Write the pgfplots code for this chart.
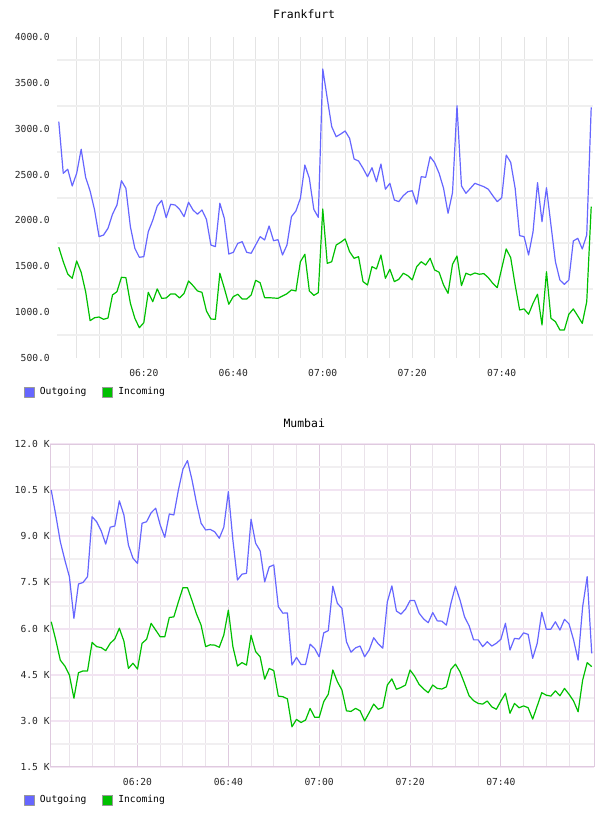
\documentclass[border=0pt]{standalone}
\usepackage{pgfplots}
\pgfplotsset{compat=1.18}
\usepackage{pgfplotstable}
\usepackage{fontspec}
\setmainfont{DejaVu Sans Mono}

\definecolor{outgoing}{HTML}{6666FF}
\definecolor{incoming}{HTML}{00C000}
\definecolor{frahgrid}{HTML}{EFEFEF}
\definecolor{fravgrid}{HTML}{E4E4E4}
\definecolor{mumhmajor}{HTML}{F2E4F2}
\definecolor{mumhminor}{HTML}{F1EFF1}
\definecolor{mumvmajor}{HTML}{DFCADF}
\definecolor{mumvminor}{HTML}{EAE3EA}
\definecolor{legendedge}{HTML}{999999}

% minutes after 06:00, outgoing and incoming traffic
\pgfplotstableread{
t out in
1 3077 1707
2 2514 1550
3 2558 1416
4 2376 1369
5 2514 1558
6 2776 1435
7 2470 1223
8 2321 907
9 2114 939
10 1823 947
11 1841 922
12 1914 936
13 2067 1187
14 2168 1223
15 2433 1380
16 2350 1376
17 1932 1097
18 1696 933
19 1598 830
20 1605 885
21 1877 1216
22 2001 1114
23 2157 1253
24 2219 1151
25 2030 1154
26 2176 1198
27 2168 1198
28 2121 1154
29 2041 1205
30 2198 1340
31 2114 1289
32 2067 1231
33 2114 1216
34 2012 1013
35 1732 925
36 1714 922
37 2187 1424
38 2023 1260
39 1634 1086
40 1652 1169
41 1750 1195
42 1768 1143
43 1652 1143
44 1642 1187
45 1732 1347
46 1823 1321
47 1787 1158
48 1939 1158
49 1779 1154
50 1790 1151
51 1623 1176
52 1732 1201
53 2041 1242
54 2103 1231
55 2241 1550
56 2604 1631
57 2459 1231
58 2121 1183
59 2034 1212
60 3651 2125
61 3332 1532
62 3022 1550
63 2913 1732
64 2942 1762
65 2975 1798
66 2895 1659
67 2670 1587
68 2648 1605
69 2568 1333
70 2477 1296
71 2575 1496
72 2422 1471
73 2615 1623
74 2340 1369
75 2405 1467
76 2223 1333
77 2205 1358
78 2270 1424
79 2313 1398
80 2324 1351
81 2179 1496
82 2477 1550
83 2470 1514
84 2695 1587
85 2630 1460
86 2514 1435
87 2350 1296
88 2078 1205
89 2302 1522
90 3251 1612
91 2376 1289
92 2296 1424
93 2350 1405
94 2405 1427
95 2386 1413
96 2368 1420
97 2340 1376
98 2270 1314
99 2205 1267
100 2248 1478
101 2713 1689
102 2634 1594
103 2350 1296
104 1834 1024
105 1823 1035
106 1623 977
107 1877 1097
108 2412 1195
109 1986 860
110 2357 1441
111 1950 933
112 1550 896
113 1350 806
114 1303 806
115 1350 977
116 1776 1035
117 1805 958
118 1689 878
119 1841 1114
120 3233 2150
}\frankfurt

% minutes after 06:00, traffic in thousands
\pgfplotstableread{
t out in
1 10.51 6.22
2 9.70 5.63
3 8.83 4.97
4 8.23 4.78
5 7.69 4.49
6 6.33 3.73
7 7.45 4.56
8 7.50 4.62
9 7.69 4.62
10 9.64 5.55
11 9.48 5.41
12 9.18 5.38
13 8.75 5.28
14 9.30 5.52
15 9.34 5.66
16 10.16 6.01
17 9.70 5.59
18 8.72 4.70
19 8.29 4.87
20 8.12 4.68
21 9.43 5.52
22 9.48 5.65
23 9.77 6.17
24 9.92 5.95
25 9.37 5.73
26 8.97 5.73
27 9.73 6.36
28 9.70 6.38
29 10.51 6.87
30 11.19 7.33
31 11.47 7.33
32 10.84 6.91
33 10.08 6.47
34 9.43 6.11
35 9.21 5.41
36 9.23 5.47
37 9.15 5.46
38 8.94 5.39
39 9.30 5.79
40 10.46 6.60
41 8.88 5.41
42 7.58 4.78
43 7.77 4.89
44 7.80 4.81
45 9.56 5.78
46 8.78 5.25
47 8.53 5.08
48 7.52 4.35
49 8.01 4.70
50 8.07 4.63
51 6.71 3.80
52 6.50 3.78
53 6.51 3.71
54 4.81 2.80
55 5.06 3.04
56 4.83 2.94
57 4.83 3.02
58 5.49 3.40
59 5.35 3.11
60 5.08 3.11
61 5.86 3.62
62 5.93 3.86
63 7.38 4.65
64 6.82 4.27
65 6.66 4.00
66 5.57 3.32
67 5.23 3.30
68 5.37 3.40
69 5.43 3.32
70 5.08 2.99
71 5.30 3.26
72 5.70 3.54
73 5.50 3.37
74 5.36 3.43
75 6.87 4.16
76 7.39 4.36
77 6.57 4.02
78 6.47 4.08
79 6.63 4.16
80 6.91 4.65
81 6.91 4.45
82 6.50 4.18
83 6.31 4.03
84 6.19 3.91
85 6.52 4.16
86 6.25 4.05
87 6.24 4.03
88 6.11 4.10
89 6.82 4.67
90 7.38 4.84
91 6.93 4.59
92 6.38 4.21
93 6.09 3.81
94 5.63 3.65
95 5.63 3.56
96 5.41 3.54
97 5.57 3.64
98 5.43 3.45
99 5.52 3.37
100 5.65 3.64
101 6.17 3.89
102 5.30 3.24
103 5.68 3.56
104 5.66 3.42
105 5.86 3.48
106 5.81 3.42
107 5.03 3.05
108 5.52 3.48
109 6.53 3.91
110 5.98 3.83
111 5.98 3.80
112 6.22 3.97
113 5.95 3.81
114 6.30 4.05
115 6.15 3.86
116 5.63 3.64
117 4.97 3.29
118 6.71 4.32
119 7.69 4.89
120 5.19 4.76
}\mumbai

\pgfplotsset{
  traffic/.style={
    scale only axis,
    major tick length=0pt, minor tick length=0pt,
    xtick={20,40,60,80,100},
    xticklabels={06:20,06:40,07:00,07:20,07:40},
    minor xtick={5,10,15,25,30,35,45,50,55,65,70,75,85,90,95,105,110,115},
    xmajorgrids, xminorgrids,
    /pgf/number format/assume math mode=true,
    ticklabel style={font=\fontsize{9.7}{11}\selectfont, text=black!85},
    xticklabel style={anchor=center, inner sep=0pt, yshift=-15bp},
    yticklabel style={anchor=east, inner sep=0pt},
    title style={font=\fontsize{11.5}{13}\selectfont, anchor=center, inner sep=0pt},
    legend columns=-1,
    legend style={draw=none, fill=none, inner sep=0pt, outer sep=0pt, anchor=west,
      font=\fontsize{9.7}{11}\selectfont, nodes={inner sep=0pt},
      /tikz/every odd column/.append style={column sep=5bp},
      /tikz/every even column/.append style={column sep=16bp}},
    legend image code/.code={\draw[##1, draw=legendedge, fill, line width=0.9bp] (0bp,-5bp) rectangle (10bp,5bp);},
  },
  outline/.style={line width=1.2bp, line join=round},
}

\begin{document}
\begin{tikzpicture}
\path[use as bounding box] (0,0) rectangle (608bp,-816bp);

% Frankfurt
\begin{axis}[traffic,
  at={(57bp,-37bp)}, anchor=north west,
  width=536bp, height=321bp,
  xmin=0.6, xmax=120.4,
  ymin=500, ymax=4000,
  ytick={500,1000,1500,2000,2500,3000,3500,4000},
  minor ytick={750,1250,1750,2250,2750,3250,3750},
  ymajorgrids=false, yminorgrids,
  axis line style={draw=none},
  major x grid style={fravgrid, line width=1bp},
  minor x grid style={fravgrid, line width=1bp},
  minor y grid style={frahgrid, line width=2bp},
  yticklabel style={xshift=-7bp, /pgf/number format/.cd, fixed, fixed zerofill, precision=1, 1000 sep={}},
  title={Frankfurt},
  title style={at={(axis description cs:0.461,1)}, yshift=16.5bp},
  legend style={at={(axis description cs:-0.0616,-0.1059)}},
]
\addplot[outgoing, outline] table[x=t, y=out] {\frankfurt};
\addlegendentry{Outgoing}
\addplot[incoming, outline] table[x=t, y=in] {\frankfurt};
\addlegendentry{Incoming}
\end{axis}

% Mumbai
\begin{axis}[traffic,
  at={(50.3bp,-444.3bp)}, anchor=north west,
  width=543.7bp, height=322.4bp,
  xmin=0.8, xmax=120.5,
  ymin=1.5, ymax=12,
  ytick={1.5,3,4.5,6,7.5,9,10.5,12},
  minor ytick={2.25,3.75,5.25,6.75,8.25,9.75,11.25},
  ymajorgrids, yminorgrids,
  axis line style={draw=mumvmajor, line width=1bp},
  major x grid style={mumvmajor, line width=1bp},
  minor x grid style={mumvminor, line width=1bp},
  major y grid style={mumhmajor, line width=2bp},
  minor y grid style={mumhminor, line width=2bp},
  yticklabel={\pgfmathprintnumber[fixed, fixed zerofill, precision=1]{\tick}\ K},
  yticklabel style={xshift=-0.5bp},
  title={Mumbai},
  title style={at={(axis description cs:0.467,1)}, yshift=15.6bp},
  legend style={at={(axis description cs:-0.0484,-0.1032)}},
]
\addplot[outgoing, outline] table[x=t, y=out] {\mumbai};
\addlegendentry{Outgoing}
\addplot[incoming, outline] table[x=t, y=in] {\mumbai};
\addlegendentry{Incoming}
\end{axis}
\end{tikzpicture}
\end{document}
